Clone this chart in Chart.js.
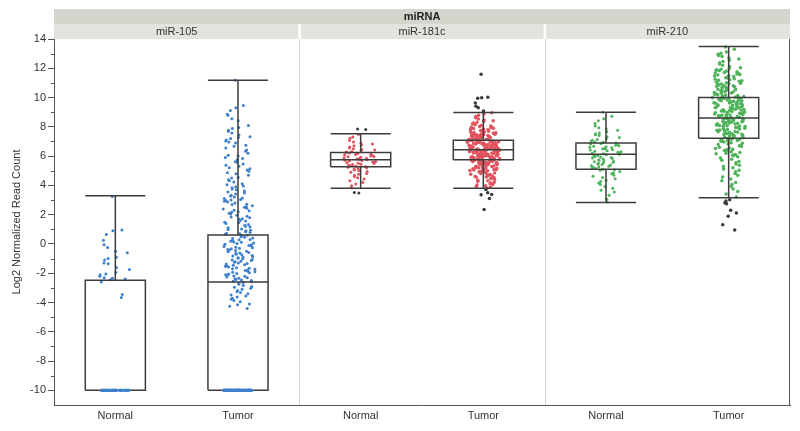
<!DOCTYPE html>
<html>
<head>
<meta charset="utf-8">
<script src="https://cdn.jsdelivr.net/npm/chart.js@4.4.1/dist/chart.umd.min.js"></script>
<style>
html, body { margin: 0; padding: 0; background: #fff; }
canvas { display: block; }
</style>
</head>
<body>
<canvas id="graphique" width="800" height="431"></canvas>
<script>
// panels and categories
var panels = ['miR-105', 'miR-181c', 'miR-210'];
var xLabels = ['Normal', 'Tumor', 'Normal', 'Tumor', 'Normal', 'Tumor'];
var yTicks = [-10, -8, -6, -4, -2, 0, 2, 4, 6, 8, 10, 12, 14];
var yMinorTicks = [-9, -7, -5, -3, -1, 1, 3, 5, 7, 9, 11, 13];

// box plot stats (one entry per group)
var boxLow    = [-10, -10, 3.81, 3.81, 2.84, 3.15];
var boxQ1     = [-10, -10, 5.27, 5.75, 5.11, 7.22];
var boxMedian = [-10, -2.6, 5.75, 6.43, 6.13, 8.61];
var boxQ3     = [-2.48, 0.61, 6.25, 7.09, 6.9, 10.0];
var boxHigh   = [3.3, 11.18, 7.52, 8.98, 9.0, 13.48];

// samples stuck at the floor value (miR-105 has lots of zero reads)
var floorValue = -10;
var floorCounts = [60, 150, 0, 0, 0, 0];

// the points of each group (without the floor ones)
var mir105Normal = [3.25, 0.95, 0.9, 0.65, 0.25, -0.05, -0.25, -0.5, -0.6, -0.9, -1.0, -1.1, -1.3, -1.35, -1.6, -1.75,
  -1.95, -2.05, -2.1, -2.2, -2.3, -2.35, -2.4, -2.45, -2.6, -3.45, -3.65];

var mir105Tumor = [11.18,
  9.45, 9.3, 9.12, 8.86, 8.8, 8.55, 8.42, 8.1, 7.95, 7.88, 7.76, 7.7, 7.58, 7.45, 7.32, 7.28, 7.2, 7.1, 7.04, 6.97,
  6.9, 6.74, 6.68, 6.55, 6.41, 6.33, 6.2, 6.06, 6.0, 5.91, 5.84, 5.76, 5.62, 5.58, 5.46, 5.38, 5.3, 5.21, 5.14, 5.05,
  4.96, 4.87, 4.8, 4.69, 4.56, 4.5, 4.38, 4.31, 4.24, 4.12, 4.04, 3.96, 3.9, 3.84, 3.76, 3.7, 3.61, 3.55, 3.48, 3.41,
  3.33, 3.27, 3.2, 3.14, 3.1, 3.03, 3.0, 2.97, 2.91, 2.86, 2.8, 2.72, 2.69, 2.61, 2.55, 2.5, 2.44, 2.38, 2.31, 2.26,
  2.2, 2.17, 2.1, 2.04, 1.96, 1.9, 1.84, 1.79, 1.72, 1.68, 1.6, 1.56, 1.49, 1.45, 1.4, 1.33, 1.28, 1.21, 1.16, 1.1,
  1.03, 0.99, 0.94, 0.9, 0.83, 0.78, 0.74, 0.69, 0.64, 0.6, 0.56, 0.5, 0.46, 0.41, 0.37, 0.31, 0.28, 0.24, 0.19, 0.14,
  0.11, 0.07, 0.03, -0.02, -0.06, -0.1, -0.13, -0.17, -0.22, -0.26, -0.29, -0.33, -0.38, -0.41, -0.44, -0.5, -0.53,
  -0.58, -0.61, -0.66, -0.7, -0.73, -0.78, -0.82, -0.85, -0.9, -0.94, -0.97, -1.01, -1.06, -1.1, -1.13, -1.18, -1.22,
  -1.25, -1.3, -1.34, -1.37, -1.42, -1.46, -1.5, -1.53, -1.58, -1.62, -1.66, -1.7, -1.73, -1.78, -1.82, -1.86, -1.9,
  -1.93, -1.97, -2.02, -2.05, -2.1, -2.14, -2.18, -2.21, -2.26, -2.3, -2.34, -2.37, -2.42, -2.46, -2.5, -2.54, -2.58,
  -2.63, -2.7, -2.76, -2.83, -2.9, -2.96, -3.02, -3.1, -3.18, -3.25, -3.31, -3.4, -3.48, -3.55, -3.62, -3.7, -3.78,
  -3.87, -3.95, -4.1, -4.15, -4.25, -4.4];

var mir181cNormal = [7.86, 7.82, 7.48, 7.31, 7.22, 7.06, 6.97, 6.9, 6.83, 6.76, 6.71, 6.62, 6.56, 6.5, 6.46, 6.41,
  6.36, 6.32, 6.28, 6.25, 6.21, 6.18, 6.14, 6.11, 6.08, 6.04, 6.01, 5.98, 5.95, 5.92, 5.88, 5.85, 5.83, 5.8, 5.77,
  5.75, 5.72, 5.7, 5.67, 5.64, 5.61, 5.58, 5.55, 5.52, 5.49, 5.45, 5.42, 5.38, 5.35, 5.31, 5.28, 5.24, 5.2, 5.16,
  5.11, 5.06, 5.01, 4.95, 4.9, 4.82, 4.76, 4.7, 4.61, 4.52, 4.43, 4.31, 4.2, 4.1, 3.98, 3.84, 3.52, 3.48];

var mir181cTumor = [11.6, 10.02, 9.98, 9.95, 9.62, 9.41, 9.3, 9.08,
  8.96, 8.88, 8.8, 8.71, 8.62, 8.53, 8.47, 8.42, 8.37, 8.31, 8.26, 8.2, 8.15, 8.1, 8.06, 8.02,
  7.98, 7.96, 7.93, 7.9, 7.88, 7.85, 7.82, 7.8, 7.77, 7.75, 7.72, 7.7, 7.67, 7.64, 7.62, 7.6, 7.57, 7.55, 7.53, 7.51,
  7.49, 7.48, 7.46, 7.45, 7.43, 7.41, 7.4, 7.38, 7.36, 7.35, 7.33, 7.31, 7.3, 7.28, 7.26, 7.25, 7.23, 7.21, 7.2, 7.18,
  7.16, 7.15, 7.13, 7.11, 7.1, 7.08, 7.06, 7.05, 7.03, 7.01,
  6.99, 6.98, 6.97, 6.95, 6.94, 6.93, 6.91, 6.9, 6.89, 6.87, 6.86, 6.85, 6.83, 6.82, 6.8, 6.79, 6.78, 6.76, 6.75,
  6.74, 6.72, 6.71, 6.7, 6.68, 6.67, 6.65, 6.64, 6.63, 6.61, 6.6, 6.59, 6.57, 6.56, 6.55, 6.54, 6.53, 6.52, 6.51,
  6.51, 6.5, 6.49, 6.48, 6.47, 6.46, 6.44, 6.43, 6.42, 6.41, 6.39, 6.38, 6.37, 6.36, 6.35, 6.33, 6.32, 6.31, 6.3,
  6.28, 6.27, 6.26, 6.25, 6.23, 6.22, 6.21, 6.2, 6.18, 6.17, 6.16, 6.15, 6.13, 6.12, 6.11, 6.1, 6.08, 6.07, 6.06,
  6.05, 6.04, 6.03, 6.02, 6.01, 6.0, 5.99, 5.97, 5.96, 5.95, 5.93, 5.92, 5.91, 5.89, 5.88, 5.86, 5.85, 5.84, 5.82,
  5.81, 5.79, 5.78, 5.76, 5.75, 5.73, 5.72, 5.7, 5.69, 5.67, 5.66, 5.64, 5.63, 5.61, 5.6, 5.58, 5.57, 5.55, 5.54,
  5.53, 5.52, 5.51, 5.5, 5.48, 5.46, 5.44, 5.42, 5.41, 5.39, 5.37, 5.35, 5.33, 5.31, 5.29, 5.27, 5.25, 5.23, 5.21,
  5.19, 5.17, 5.15, 5.13, 5.11, 5.09, 5.07, 5.05, 5.04, 5.02, 5.0, 4.97, 4.94, 4.9, 4.87, 4.84, 4.81, 4.77, 4.74,
  4.71, 4.67, 4.64, 4.61, 4.58, 4.55, 4.52, 4.5, 4.46, 4.41, 4.36, 4.31, 4.26, 4.21, 4.16, 4.11, 4.06, 4.02,
  3.97, 3.92, 3.87, 3.82, 3.72, 3.5, 3.38, 3.36, 3.1, 2.35];

var mir210Normal = [9.0, 8.72, 8.55, 8.41, 8.22, 8.05, 7.94, 7.85, 7.77, 7.66, 7.58, 7.52, 7.46, 7.4, 7.33, 7.27,
  7.2, 7.14, 7.08, 7.02, 6.97, 6.94, 6.9, 6.86, 6.82, 6.79, 6.75, 6.71, 6.68, 6.64, 6.61, 6.57, 6.54, 6.51, 6.48,
  6.44, 6.41, 6.37, 6.34, 6.3, 6.27, 6.23, 6.2, 6.16, 6.13, 6.09, 6.05, 6.02, 5.98, 5.94, 5.91, 5.87, 5.83, 5.8,
  5.76, 5.72, 5.69, 5.65, 5.61, 5.58, 5.54, 5.51, 5.47, 5.43, 5.39, 5.35, 5.31, 5.27, 5.23, 5.19, 5.15, 5.11, 5.07,
  5.03, 4.95, 4.87, 4.79, 4.7, 4.62, 4.54, 4.46, 4.36, 4.27, 4.17, 4.06, 3.93, 3.8, 3.67, 3.55, 3.32, 3.05, 2.86];

var mir210Tumor = [13.45, 13.3, 13.12, 13.02, 12.95, 12.88, 12.8, 12.71, 12.63, 12.55, 12.46, 12.38, 12.3, 12.21,
  12.12, 12.04, 11.97, 11.93, 11.9, 11.86, 11.83, 11.79, 11.76, 11.72, 11.68, 11.65, 11.61, 11.58, 11.54, 11.5,
  11.47, 11.43, 11.4, 11.36, 11.33, 11.29, 11.25, 11.22, 11.18, 11.15, 11.11, 11.08, 11.04, 11.01,
  10.98, 10.95, 10.92, 10.89, 10.86, 10.83, 10.8, 10.77, 10.74, 10.71, 10.68, 10.65, 10.62, 10.59, 10.56, 10.53,
  10.5, 10.47, 10.44, 10.41, 10.38, 10.35, 10.32, 10.29, 10.26, 10.23, 10.2, 10.17, 10.14, 10.11, 10.08, 10.06,
  10.04, 10.01, 9.98, 9.96, 9.94, 9.92, 9.9, 9.87, 9.85, 9.83, 9.81, 9.79, 9.76, 9.74, 9.72, 9.7, 9.68, 9.65, 9.63,
  9.61, 9.59, 9.57, 9.54, 9.52, 9.5, 9.48, 9.46, 9.43, 9.41, 9.39, 9.37, 9.35, 9.32, 9.3, 9.28, 9.26, 9.24, 9.21,
  9.19, 9.17, 9.15, 9.13, 9.1, 9.08, 9.06, 9.04, 9.02, 8.98, 8.96, 8.94, 8.92, 8.9, 8.87, 8.85, 8.83, 8.81, 8.79,
  8.76, 8.74, 8.72, 8.7, 8.68, 8.65, 8.63, 8.61, 8.59, 8.57, 8.54, 8.52, 8.5, 8.48, 8.46, 8.43, 8.41, 8.39, 8.37,
  8.35, 8.32, 8.3, 8.28, 8.26, 8.24, 8.21, 8.19, 8.17, 8.15, 8.13, 8.1, 8.08, 8.06, 8.04, 8.02,
  7.98, 7.95, 7.93, 7.9, 7.87, 7.85, 7.82, 7.79, 7.77, 7.74, 7.71, 7.69, 7.66, 7.63, 7.61, 7.58, 7.55, 7.53, 7.5,
  7.47, 7.45, 7.42, 7.39, 7.37, 7.34, 7.31, 7.29, 7.26, 7.23, 7.21, 7.18, 7.15, 7.13, 7.1, 7.07, 7.05, 7.03, 7.01,
  6.97, 6.92, 6.88, 6.83, 6.79, 6.74, 6.7, 6.65, 6.61, 6.56, 6.52, 6.47, 6.43, 6.38, 6.34, 6.29, 6.25, 6.2, 6.16,
  6.11, 6.07, 6.02, 5.96, 5.88, 5.79, 5.71, 5.63, 5.54, 5.46, 5.38, 5.29, 5.21, 5.12, 5.04, 4.94, 4.82, 4.69, 4.57,
  4.44, 4.31, 4.19, 4.06, 3.92, 3.75, 3.58, 3.41, 3.2, 3.02, 2.93, 2.81, 2.74, 2.31, 2.12, 1.9, 1.32, 0.96];

var samples = [mir105Normal, mir105Tumor, mir181cNormal, mir181cTumor, mir210Normal, mir210Tumor];

// look
var pointColors = ['#3f80cc', '#3f80cc', '#e1535e', '#e1535e', '#4fb35b', '#4fb35b'];
var pointSizes = [1.5, 1.5, 1.5, 1.75, 1.5, 1.75];
var outlierColor = '#3a3a3a';
var boxColor = '#3c3c3c';
var boxHalfWidth = 0.245;   // in x units (one group = 1 unit)
var jitterWidth = 0.14;
var fontFamily = '"Liberation Sans", Arial, sans-serif';

//Le decalage horizontal des points (suite de Weyl, pas de hasard)
function phase(i){
	var p = i * 0.7548776662 + i * i * 0.5698402910;
	return p - Math.floor(p);
}

//Les points d'un groupe, ecartes selon la densite locale
function nuage(vals, k){
	var c = k + 0.5;
	var dens = vals.map(function(v){
		return vals.filter(function(u){ return Math.abs(u - v) <= 0.5; }).length;
	});
	var dmax = Math.max.apply(null, dens);
	var pts = [], colors = [];
	for(var i = 0 ; i < vals.length ; i++){
		var f = 0.3 + 0.7 * Math.sqrt(dens[i] / dmax);
		pts.push({x: c + (phase(i + 1) * 2 - 1) * jitterWidth * f, y: vals[i]});
		var out = vals[i] < boxLow[k] || vals[i] > boxHigh[k];
		colors.push(out ? outlierColor : pointColors[k]);
	}
	return {data: pts, pointBackgroundColor: colors};
}

//Les points colles au plancher (-10)
function plancher(k){
	var c = k + 0.5, pts = [];
	for(var j = 0 ; j < floorCounts[k] ; j++){
		pts.push({x: c + (phase(j + 7) * 2 - 1) * jitterWidth * 0.85, y: floorValue});
	}
	return pts;
}

//Les traits des boites a moustaches
function boites(){
	var d = [];
	for(var k = 0 ; k < boxQ1.length ; k++){
		var c = k + 0.5, w = boxHalfWidth;
		var gap = {x: c, y: null};
		d.push({x: c - w, y: boxQ1[k]}, {x: c + w, y: boxQ1[k]}, {x: c + w, y: boxQ3[k]}, {x: c - w, y: boxQ3[k]}, {x: c - w, y: boxQ1[k]}, gap);
		d.push({x: c - w, y: boxMedian[k]}, {x: c + w, y: boxMedian[k]}, gap);
		d.push({x: c, y: boxQ3[k]}, {x: c, y: boxHigh[k]}, gap);
		d.push({x: c, y: boxQ1[k]}, {x: c, y: boxLow[k]}, gap);
		d.push({x: c - w, y: boxHigh[k]}, {x: c + w, y: boxHigh[k]}, gap);
		d.push({x: c - w, y: boxLow[k]}, {x: c + w, y: boxLow[k]}, gap);
	}
	return d;
}

var datasets = [{
	data: boites(),
	showLine: true,
	spanGaps: false,
	borderColor: boxColor,
	borderWidth: 1.5,
	pointRadius: 0,
	pointHoverRadius: 0,
	order: 1
}];
samples.forEach(function(vals, k){
	var n = nuage(vals, k);
	datasets.push({
		data: n.data,
		pointBackgroundColor: n.pointBackgroundColor,
		pointBorderWidth: 0,
		pointRadius: pointSizes[k],
		pointHoverRadius: pointSizes[k],
		order: 2
	});
	if(floorCounts[k] > 0){
		datasets.push({
			data: plancher(k),
			pointBackgroundColor: pointColors[k],
			pointBorderWidth: 0,
			pointRadius: pointSizes[k],
			pointHoverRadius: pointSizes[k],
			order: 0
		});
	}
});

//Les bandeaux du haut, les separations et les petites graduations
var facettes = {
	id: 'facettes',
	beforeDatasetsDraw: function(chart){
		var ctx = chart.ctx, a = chart.chartArea, x = chart.scales.x;
		ctx.save();
		ctx.strokeStyle = '#d2d2d2';
		ctx.lineWidth = 1;
		for(var p = 1 ; p < panels.length ; p++){
			var px = Math.round(x.getPixelForValue(p * 2)) + 0.5;
			ctx.beginPath(); ctx.moveTo(px, a.top); ctx.lineTo(px, a.bottom); ctx.stroke();
		}
		ctx.restore();
	},
	afterDraw: function(chart){
		var ctx = chart.ctx, a = chart.chartArea, x = chart.scales.x, y = chart.scales.y;
		ctx.save();
		// bandeau miRNA
		ctx.fillStyle = '#d5d5cd';
		ctx.fillRect(a.left, a.top - 30, a.right - a.left, 15);
		ctx.fillStyle = '#222';
		ctx.font = 'bold 11px ' + fontFamily;
		ctx.textAlign = 'center';
		ctx.textBaseline = 'middle';
		ctx.fillText('miRNA', (a.left + a.right) / 2, a.top - 22);
		// bandeaux des panneaux
		ctx.font = '11px ' + fontFamily;
		for(var p = 0 ; p < panels.length ; p++){
			var x0 = x.getPixelForValue(p * 2), x1 = x.getPixelForValue(p * 2 + 2);
			var l = p === 0 ? x0 : x0 + 1.5, r = p === panels.length - 1 ? x1 : x1 - 1;
			ctx.fillStyle = '#e3e3dd';
			ctx.fillRect(l, a.top - 15, r - l, 15);
			ctx.fillStyle = '#333';
			ctx.fillText(panels[p], (x0 + x1) / 2, a.top - 7);
		}
		// bord droit
		ctx.strokeStyle = '#555';
		ctx.lineWidth = 1;
		ctx.beginPath();
		ctx.moveTo(Math.round(a.right) - 0.5, a.top); ctx.lineTo(Math.round(a.right) - 0.5, a.bottom);
		ctx.stroke();
		// petites graduations
		yMinorTicks.forEach(function(v){
			var py = Math.round(y.getPixelForValue(v)) + 0.5;
			ctx.beginPath(); ctx.moveTo(a.left - 3, py); ctx.lineTo(a.left, py); ctx.stroke();
		});
		ctx.restore();
	}
};

Chart.defaults.font.family = fontFamily;
Chart.defaults.font.size = 11;
Chart.defaults.color = '#333';

var ctx = document.getElementById('graphique').getContext('2d');
var graph = new Chart(ctx, {
	type: 'scatter',
	data: {datasets: datasets},
	options: {
		responsive: false,
		animation: false,
		layout: {padding: {top: 39, right: 10, bottom: 0, left: 0}},
		plugins: {legend: {display: false}, tooltip: {enabled: false}},
		scales: {
			x: {
				type: 'linear', min: 0, max: 6,
				afterBuildTicks: function(s){ s.ticks = xLabels.map(function(l, i){ return {value: i + 0.5}; }); },
				afterFit: function(s){ s.height = 26; },
				ticks: {autoSkip: false, maxRotation: 0, padding: 4, callback: function(v, i){ return xLabels[i]; }},
				grid: {display: false, drawTicks: false},
				border: {display: true, color: '#555'}
			},
			y: {
				min: -11, max: 14,
				afterBuildTicks: function(s){ s.ticks = yTicks.map(function(v){ return {value: v}; }); },
				afterFit: function(s){ s.width = 54; },
				ticks: {autoSkip: false, padding: 2, callback: function(v){ return String(v); }},
				grid: {drawOnChartArea: false, drawTicks: true, tickLength: 6, tickColor: '#555'},
				border: {display: true, color: '#555'},
				title: {display: true, text: 'Log2 Normalized Read Count', padding: {top: 10, bottom: 0}}
			}
		}
	},
	plugins: [facettes]
});
</script>
</body>
</html>
